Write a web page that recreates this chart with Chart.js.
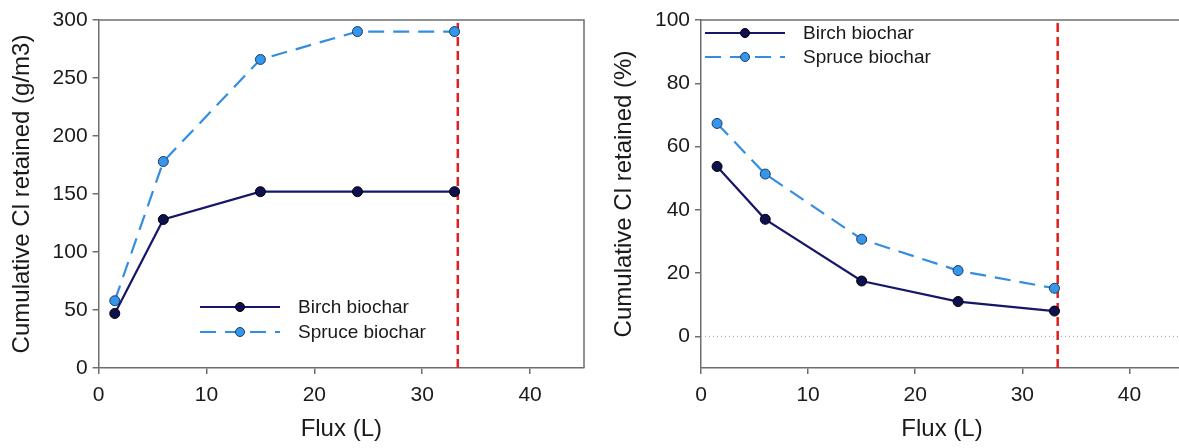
<!DOCTYPE html>
<html>
<head>
<meta charset="utf-8">
<script src="https://cdn.jsdelivr.net/npm/chart.js@4/dist/chart.umd.min.js"></script>
<style>
  html, body { margin: 0; padding: 0; background: #fff; overflow: hidden; }
  #wrap { position: relative; width: 1179px; height: 448px; overflow: hidden; }
  #left { position: absolute; left: 0; top: 0; width: 590px; height: 448px; }
  #right { position: absolute; left: 590px; top: 0; width: 600px; height: 448px; }
</style>
</head>
<body>
<div id="wrap">
  <div id="left"><canvas id="massChart"></canvas></div>
  <div id="right"><canvas id="pctChart"></canvas></div>
</div>
<script>
// values
const flux = [1.5, 6, 15, 24, 33];
const birchMass = [47, 128, 152, 152, 152];
const spruceMass = [58, 178, 266, 290, 290];
const birchPct = [53.7, 37, 17.5, 11, 8];
const sprucePct = [67.3, 51.3, 30.7, 20.8, 15.2];
const cutoffFlux = 33.3;

const xTicks = [0, 10, 20, 30, 40];
const massTicks = [0, 50, 100, 150, 200, 250, 300];
const pctTicks = [0, 20, 40, 60, 80, 100];

const seriesNames = ['Birch biochar', 'Spruce biochar'];

const axisGrey = '#6e6e6e';
const textColor = '#1a1a1a';
const fontFamily = 'Arial, "Liberation Sans", sans-serif';

function pts(xs, ys) {
  return xs.map((x, i) => ({ x: x, y: ys[i] }));
}

function seriesSets(birch, spruce) {
  return [
    {
      label: seriesNames[0],
      data: pts(flux, birch),
      borderColor: '#16166a',
      borderWidth: 2.2,
      pointRadius: 5,
      pointBackgroundColor: '#0f1050',
      pointBorderColor: '#000',
      pointBorderWidth: 1
    },
    {
      label: seriesNames[1],
      data: pts(flux, spruce),
      borderColor: '#338de0',
      borderWidth: 2.2,
      borderDash: [16, 9],
      pointRadius: 5,
      pointBackgroundColor: '#3596ea',
      pointBorderColor: '#1a3a66',
      pointBorderWidth: 1
    }
  ];
}

function cutoffSet(lo, hi) {
  return {
    label: 'cutoff',
    data: [{ x: cutoffFlux, y: lo }, { x: cutoffFlux, y: hi }],
    borderColor: '#e0201c',
    borderWidth: 2.5,
    borderDash: [9, 5],
    pointRadius: 0
  };
}

// frame on top and right + legend drawn inside the plot
const framePlugin = {
  id: 'frame',
  afterDatasetsDraw(chart, args, opts) {
    const ctx = chart.ctx;
    const a = chart.chartArea;
    ctx.save();
    ctx.strokeStyle = axisGrey;
    ctx.lineWidth = 1.5;
    ctx.beginPath();
    ctx.moveTo(a.left, a.top);
    ctx.lineTo(a.right, a.top);
    ctx.lineTo(a.right, a.bottom);
    ctx.stroke();

    // legend
    const lg = opts.legend;
    chart.data.datasets.slice(0, 2).forEach((ds, i) => {
      const y = lg.y + i * lg.gap;
      ctx.strokeStyle = ds.borderColor;
      ctx.lineWidth = ds.borderWidth;
      ctx.setLineDash(ds.borderDash || []);
      ctx.beginPath();
      ctx.moveTo(lg.x, y);
      ctx.lineTo(lg.x + 80, y);
      ctx.stroke();
      ctx.setLineDash([]);
      ctx.fillStyle = ds.pointBackgroundColor;
      ctx.strokeStyle = ds.pointBorderColor;
      ctx.lineWidth = 1;
      ctx.beginPath();
      ctx.arc(lg.x + 40, y, 4.5, 0, Math.PI * 2);
      ctx.fill();
      ctx.stroke();
      ctx.fillStyle = textColor;
      ctx.font = '19px ' + fontFamily;
      ctx.textBaseline = 'middle';
      ctx.fillText(ds.label, lg.x + 98, y + 1);
    });
    ctx.restore();
  }
};

function makeOptions(yMin, yMax, yTicks, yTitle, yWidth, titlePad, rightPad, legendPos) {
  return {
    responsive: true,
    maintainAspectRatio: false,
    animation: false,
    layout: { padding: { top: 20, right: rightPad, left: 0, bottom: 0 } },
    plugins: {
      legend: { display: false },
      tooltip: { enabled: false },
      frame: { legend: legendPos }
    },
    scales: {
      x: {
        type: 'linear',
        min: 0,
        max: 45,
        afterBuildTicks: s => { s.ticks = xTicks.map(v => ({ value: v })); },
        afterFit: s => { s.height = 80; },
        grid: { drawOnChartArea: false, drawTicks: true, tickLength: 6, color: axisGrey, lineWidth: 1.5 },
        border: { display: true, color: axisGrey, width: 1.5 },
        ticks: { color: textColor, font: { size: 21, family: fontFamily }, padding: 9, maxRotation: 0 },
        title: { display: true, text: 'Flux (L)', color: textColor, font: { size: 24, family: fontFamily }, padding: { top: 10 } }
      },
      y: {
        min: yMin,
        max: yMax,
        afterBuildTicks: s => { s.ticks = yTicks.map(v => ({ value: v })); },
        afterFit: s => { s.width = yWidth; },
        grid: { drawOnChartArea: false, drawTicks: true, tickLength: 6, color: axisGrey, lineWidth: 1.5 },
        border: { display: true, color: axisGrey, width: 1.5 },
        ticks: { color: textColor, font: { size: 21, family: fontFamily }, padding: 5 },
        title: { display: true, text: yTitle, color: textColor, font: { size: 24, family: fontFamily }, padding: { top: titlePad, bottom: 0 } }
      }
    }
  };
}

new Chart(document.getElementById('massChart'), {
  type: 'line',
  data: { datasets: seriesSets(birchMass, spruceMass).concat([cutoffSet(0, 300)]) },
  options: makeOptions(0, 300, massTicks, 'Cumulative Cl retained (g/m3)', 98.6, 8, 5.4, { x: 200, y: 307, gap: 25 }),
  plugins: [framePlugin]
});

new Chart(document.getElementById('pctChart'), {
  type: 'line',
  data: {
    datasets: seriesSets(birchPct, sprucePct).concat([
      cutoffSet(-10, 100),
      {
        label: 'zero',
        data: [{ x: 0, y: 0 }, { x: 45, y: 0 }],
        borderColor: '#9a9a9a',
        borderWidth: 1,
        borderDash: [1, 3],
        pointRadius: 0
      }
    ])
  },
  options: makeOptions(-10, 100, pctTicks, 'Cumulative Cl retained (%)', 111, 20, 7, { x: 115, y: 33, gap: 24 }),
  plugins: [framePlugin]
});
</script>
</body>
</html>
